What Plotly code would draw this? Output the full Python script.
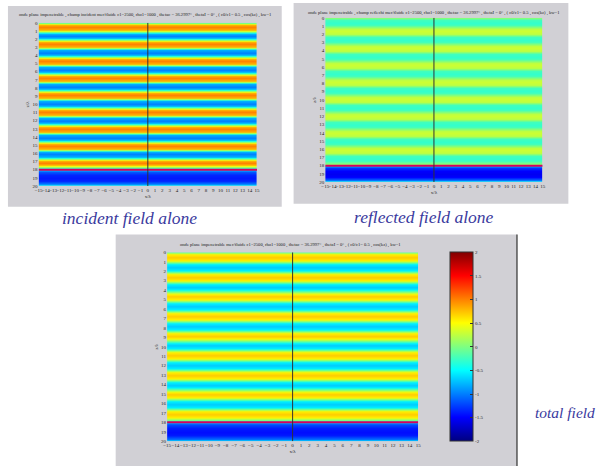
import plotly.graph_objects as go

W, H = 602, 469

# ---- field profiles along z/lambda, plane wave above an interface ----
# sample depths: band edges and band centres read along one column
x_span = [-15, 15]
z_upper = [0.00,
           0.25, 0.55, 0.85, 1.29, 1.59, 1.89,
           2.33, 2.63, 2.93, 3.36, 3.66, 3.96,
           4.40, 4.70, 5.00, 5.44, 5.74, 6.04,
           6.48, 6.78, 7.08, 7.51, 7.81, 8.11,
           8.55, 8.85, 9.15, 9.59, 9.89, 10.19,
           10.63, 10.93, 11.23, 11.66, 11.96, 12.26,
           12.70, 13.00, 13.30, 13.74, 14.04, 14.34,
           14.78, 15.08, 15.38, 15.81, 16.11, 16.41,
           16.85, 17.15, 17.45,
           17.97]
incident_upper = [-0.10,
                  0.80, 1.00, 0.80, -0.80, -1.00, -0.80,
                  0.80, 1.00, 0.80, -0.80, -1.00, -0.80,
                  0.80, 1.00, 0.80, -0.80, -1.00, -0.80,
                  0.80, 1.00, 0.80, -0.80, -1.00, -0.80,
                  0.80, 1.00, 0.80, -0.80, -1.00, -0.80,
                  0.80, 1.00, 0.80, -0.80, -1.00, -0.80,
                  0.80, 1.00, 0.80, -0.80, -1.00, -0.80,
                  0.80, 1.00, 0.80, -0.80, -1.00, -0.80,
                  0.80, 1.00, 0.80,
                  -0.80]
reflected_upper = [0.03,
                   -0.24, -0.30, -0.24, 0.24, 0.30, 0.24,
                   -0.24, -0.30, -0.24, 0.24, 0.30, 0.24,
                   -0.24, -0.30, -0.24, 0.24, 0.30, 0.24,
                   -0.24, -0.30, -0.24, 0.24, 0.30, 0.24,
                   -0.24, -0.30, -0.24, 0.24, 0.30, 0.24,
                   -0.24, -0.30, -0.24, 0.24, 0.30, 0.24,
                   -0.24, -0.30, -0.24, 0.24, 0.30, 0.24,
                   -0.24, -0.30, -0.24, 0.24, 0.30, 0.24,
                   -0.24, -0.30, -0.24,
                   0.24]
total_upper = [-0.07,
               0.56, 0.70, 0.56, -0.56, -0.70, -0.56,
               0.56, 0.70, 0.56, -0.56, -0.70, -0.56,
               0.56, 0.70, 0.56, -0.56, -0.70, -0.56,
               0.56, 0.70, 0.56, -0.56, -0.70, -0.56,
               0.56, 0.70, 0.56, -0.56, -0.70, -0.56,
               0.56, 0.70, 0.56, -0.56, -0.70, -0.56,
               0.56, 0.70, 0.56, -0.56, -0.70, -0.56,
               0.56, 0.70, 0.56, -0.56, -0.70, -0.56,
               0.56, 0.70, 0.56,
               -0.56]
# lower medium (below the interface)
z_lower = [18.03, 18.25, 18.60, 19.00, 19.40, 19.75, 20.00]
incident_lower = [-0.70, -1.15, -1.35, -1.40, -1.35, -1.00, -0.35]
reflected_lower = [-0.80, -1.30, -1.50, -1.55, -1.50, -1.10, -0.35]
total_lower = [-0.75, -1.20, -1.40, -1.45, -1.40, -1.05, -0.35]

interface_z = 18
axis_x = 0
x_ticks = list(range(-15, 16))
z_ticks = list(range(0, 21))
cbar_ticks = [-2, -1.5, -1, -0.5, 0, 0.5, 1, 1.5, 2]
cbar_text = ["-2", "-1.5", "-1", "-0.5", "0", "0.5", "1", "1.5", "2"]

titles = [
    "onde plane impenetrable , champ incident mer/fluide c1=2500, rho1=1000 , thetac = 36.2997° , thetaI = 0° , ( c0/c1= 0.5 , cos(kz) , kw=1",
    "onde plane impenetrable , champ reflechi mer/fluide c1=2500, rho1=1000 , thetac = 36.2997° , thetaI = 0° , ( c0/c1= 0.5 , cos(kz) , kw=1",
    "onde plane impenetrable mer/fluide c1=2500, rho1=1000 , thetac = 36.2997° , thetaI = 0° , ( c0/c1= 0.5 , cos(kz) , kw=1",
]
captions = ["incident field alone", "reflected field alone", "total field"]

jet = [[0.0, "rgb(0,0,128)"], [0.125, "rgb(0,0,255)"], [0.375, "rgb(0,255,255)"],
       [0.625, "rgb(255,255,0)"], [0.875, "rgb(255,0,0)"], [1.0, "rgb(128,0,0)"]]

SERIF = "Liberation Serif, Times New Roman, serif"
GRAY = "#d1d0d5"


def px_x(p):
    return p / W


def px_y(p):
    return 1 - p / H


# plot areas in pixels: (left, right, top, bottom)
areas = [(35, 256, 21, 186), (325, 545, 16, 182), (165, 419, 253, 444)]
boxes = [(4, 281, 4, 207), (293, 571, 1, 204), (113, 519, 235, 469)]

fig = go.Figure()

panels = [(incident_upper, incident_lower),
          (reflected_upper, reflected_lower),
          (total_upper, total_lower)]
z_all = z_upper + z_lower
for i, (upper, lower) in enumerate(panels):
    vals = upper + lower
    zgrid = [[v, v] for v in vals]
    xa = "x" if i == 0 else f"x{i + 1}"
    ya = "y" if i == 0 else f"y{i + 1}"
    hm = dict(
        x=x_span, y=z_all, z=zgrid, zmin=-2, zmax=2, colorscale=jet,
        zsmooth="best", xaxis=xa, yaxis=ya, showscale=(i == 2),
    )
    if i == 2:
        hm["colorbar"] = dict(
            x=px_x(451), xanchor="left", xpad=0, ypad=0,
            y=px_y(444), yanchor="bottom", len=(444 - 253) / H, lenmode="fraction",
            thickness=23, thicknessmode="pixels",
            outlinewidth=1, outlinecolor="#333",
            tickvals=cbar_ticks, ticktext=cbar_text, ticks="inside", ticklen=3,
            tickcolor="#333", tickfont=dict(family=SERIF, size=5, color="#222"),
        )
    fig.add_trace(go.Heatmap(**hm))
    # interface between the two media
    fig.add_trace(go.Scatter(x=x_span, y=[interface_z, interface_z], mode="lines",
                             line=dict(color="#d6005e", width=2), xaxis=xa, yaxis=ya,
                             showlegend=False, hoverinfo="skip"))
    # vertical reference line x = 0
    fig.add_trace(go.Scatter(x=[axis_x, axis_x], y=[z_ticks[0], z_ticks[-1]], mode="lines",
                             line=dict(color="#333333", width=1), xaxis=xa, yaxis=ya,
                             showlegend=False, hoverinfo="skip"))

layout_axes = {}
for i, (l, r, t, b) in enumerate(areas):
    xk = "xaxis" if i == 0 else f"xaxis{i + 1}"
    yk = "yaxis" if i == 0 else f"yaxis{i + 1}"
    xa_ref = "x" if i == 0 else f"x{i + 1}"
    ya_ref = "y" if i == 0 else f"y{i + 1}"
    layout_axes[xk] = dict(
        domain=[px_x(l), px_x(r)], anchor=ya_ref, range=[-15, 15],
        tickvals=x_ticks, tickangle=0, ticks="", showgrid=False, zeroline=False,
        tickfont=dict(family=SERIF, size=5, color="#222"),
        title=dict(text="x/λ", font=dict(family=SERIF, size=5, color="#222"), standoff=2),
    )
    layout_axes[yk] = dict(
        domain=[px_y(b), px_y(t)], anchor=xa_ref, range=[20, 0],
        tickvals=z_ticks, ticks="", showgrid=False, zeroline=False,
        tickfont=dict(family=SERIF, size=5, color="#222"),
        title=dict(text="z/λ", font=dict(family=SERIF, size=5, color="#222"), standoff=2),
    )

shapes = []
for (l, r, t, b) in boxes:
    shapes.append(dict(type="rect", xref="paper", yref="paper",
                       x0=px_x(l), x1=px_x(r), y0=px_y(b), y1=px_y(t),
                       fillcolor=GRAY, line=dict(width=0), layer="below"))
shapes.append(dict(type="line", xref="paper", yref="paper",
                   x0=px_x(519), x1=px_x(519), y0=px_y(469), y1=px_y(235),
                   line=dict(color="#555", width=1.5)))

annotations = []
title_pos = [(143, 13), (435, 11), (290, 246)]
for txt, (cx, cy) in zip(titles, title_pos):
    annotations.append(dict(text=txt, x=px_x(cx), y=px_y(cy), xref="paper", yref="paper",
                            xanchor="center", yanchor="middle", showarrow=False,
                            font=dict(family=SERIF, size=4.6, color="#222")))

cap_font = dict(family=SERIF, size=17.5, color="#3a3a9e")
annotations.append(dict(text=f"<i>{captions[0]}</i>", x=px_x(127), y=px_y(218),
                        xref="paper", yref="paper", xanchor="center", yanchor="middle",
                        showarrow=False, font=cap_font))
annotations.append(dict(text=f"<i>{captions[1]}</i>", x=px_x(425), y=px_y(217),
                        xref="paper", yref="paper", xanchor="center", yanchor="middle",
                        showarrow=False, font=cap_font))
annotations.append(dict(text=f"<i>{captions[2]}</i>", x=px_x(535), y=px_y(415),
                        xref="paper", yref="paper", xanchor="left", yanchor="middle",
                        showarrow=False, font=dict(family=SERIF, size=15.5, color="#3a3a9e")))

fig.update_layout(
    width=W, height=H, margin=dict(l=0, r=0, t=0, b=0),
    paper_bgcolor="white", plot_bgcolor=GRAY, showlegend=False,
    shapes=shapes, annotations=annotations, **layout_axes,
)

fig.write_html("out.html", config={"displayModeBar": False})
